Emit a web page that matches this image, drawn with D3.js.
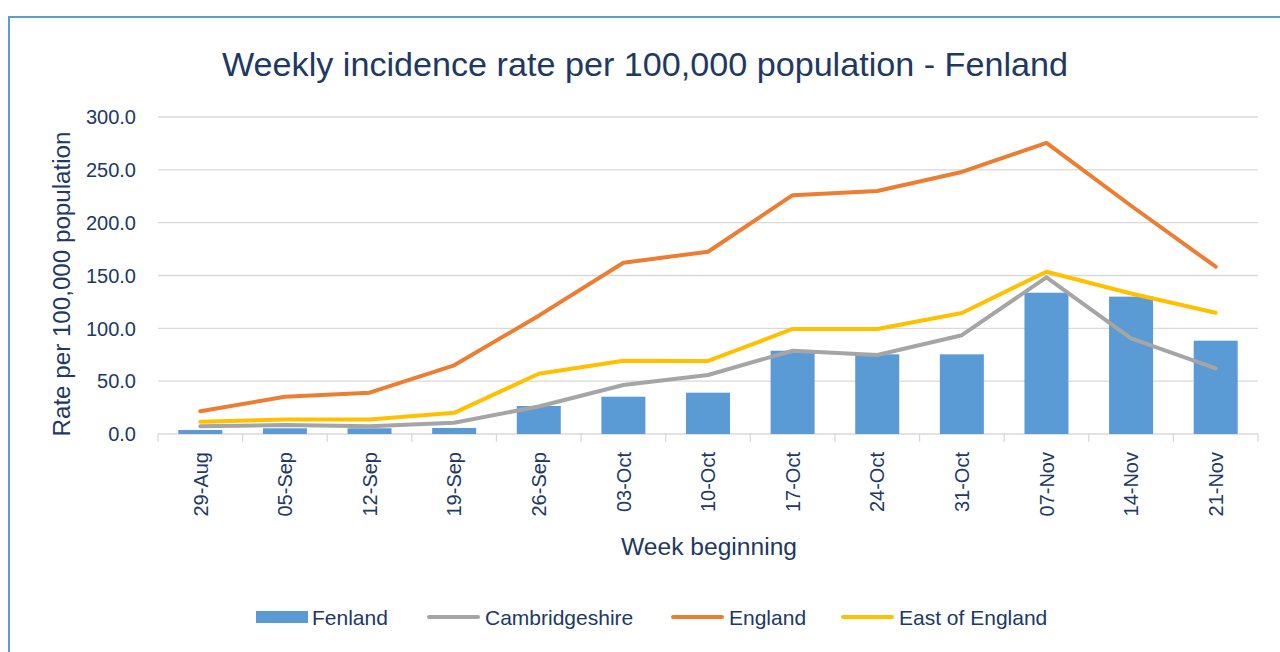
<!DOCTYPE html>
<html>
<head>
<meta charset="utf-8">
<script src="https://cdn.jsdelivr.net/npm/d3@7"></script>
<style>
  html, body { margin: 0; padding: 0; background: #fff; }
  svg { display: block; font-family: "Liberation Sans", Arial, sans-serif; }
</style>
</head>
<body>
<div id="chart"></div>
<script>
// Data
const weeks = ["29-Aug", "05-Sep", "12-Sep", "19-Sep", "26-Sep", "03-Oct", "10-Oct",
  "17-Oct", "24-Oct", "31-Oct", "07-Nov", "14-Nov", "21-Nov"];
const fenland = [3.8, 5.4, 5.4, 5.7, 26.5, 35.3, 39.1, 78.8, 75.4, 75.4, 133.7, 130.0, 88.3];
const cambridgeshire = [7.3, 8.5, 7.3, 10.7, 26.0, 46.4, 55.8, 78.8, 74.8, 93.5, 148.3, 90.5, 62.2];
const england = [21.5, 35.3, 39.1, 65.0, 112.0, 162.1, 172.5, 226.0, 230.0, 248.0, 275.5, 216.0, 158.3];
const eastOfEngland = [11.6, 13.8, 13.8, 20.0, 57.0, 69.4, 69.1, 99.4, 99.4, 114.5, 153.6, 133.0, 114.8];
const yTicks = [0, 50, 100, 150, 200, 250, 300];

const lineSeries = [
  { name: "Cambridgeshire", values: cambridgeshire, color: "#A5A5A5" },
  { name: "England", values: england, color: "#ED7D31" },
  { name: "East of England", values: eastOfEngland, color: "#FFC000" }
];

const W = 1280, H = 652;
const textColor = "#203864";
const plot = { left: 158, right: 1258, top: 117, bottom: 434 };

const svg = d3.select("#chart").append("svg")
  .attr("width", W)
  .attr("height", H);

// chart frame (only top and left edges visible)
svg.append("path")
  .attr("d", `M9,${H} V17 H${W}`)
  .attr("fill", "none")
  .attr("stroke", "#5B9BD5")
  .attr("stroke-width", 2);

const x = d3.scaleBand()
  .domain(weeks)
  .range([plot.left, plot.right])
  .paddingInner(0.48)
  .paddingOuter(0.24);

const xBand = d3.scaleBand().domain(weeks).range([plot.left, plot.right]);

const y = d3.scaleLinear()
  .domain([0, 300])
  .range([plot.bottom, plot.top]);

// gridlines
svg.append("g")
  .selectAll("line")
  .data(yTicks)
  .join("line")
  .attr("x1", plot.left)
  .attr("x2", plot.right)
  .attr("y1", d => y(d))
  .attr("y2", d => y(d))
  .attr("stroke", "#D9D9D9")
  .attr("stroke-width", 1.3);

// y tick labels
svg.append("g")
  .selectAll("text")
  .data(yTicks)
  .join("text")
  .attr("x", 136)
  .attr("y", d => y(d))
  .attr("dy", "0.36em")
  .attr("text-anchor", "end")
  .attr("font-size", 20)
  .attr("fill", textColor)
  .text(d => d.toFixed(1));

// x tick marks at band boundaries
const bounds = weeks.map(w => xBand(w)).concat([plot.right]);
svg.append("g")
  .selectAll("line")
  .data(bounds)
  .join("line")
  .attr("x1", d => d)
  .attr("x2", d => d)
  .attr("y1", plot.bottom)
  .attr("y2", plot.bottom + 8)
  .attr("stroke", "#D9D9D9")
  .attr("stroke-width", 1.3);

// x tick labels (rotated)
svg.append("g")
  .selectAll("text")
  .data(weeks)
  .join("text")
  .attr("transform", d => `translate(${xBand(d) + xBand.bandwidth() / 2},452) rotate(-90)`)
  .attr("dy", "0.36em")
  .attr("text-anchor", "end")
  .attr("font-size", 20)
  .attr("fill", textColor)
  .text(d => d);

// bars
svg.append("g")
  .selectAll("rect")
  .data(weeks.map((w, i) => ({ w, v: fenland[i] })))
  .join("rect")
  .attr("x", d => x(d.w))
  .attr("width", x.bandwidth())
  .attr("y", d => y(d.v))
  .attr("height", d => y(0) - y(d.v))
  .attr("fill", "#5B9BD5");

// lines
const line = d3.line()
  .x((d, i) => xBand(weeks[i]) + xBand.bandwidth() / 2)
  .y(d => y(d));

svg.append("g")
  .selectAll("path")
  .data(lineSeries)
  .join("path")
  .attr("d", d => line(d.values))
  .attr("fill", "none")
  .attr("stroke", d => d.color)
  .attr("stroke-width", 4)
  .attr("stroke-linejoin", "round")
  .attr("stroke-linecap", "round");

// title
svg.append("text")
  .attr("x", 645)
  .attr("y", 76)
  .attr("text-anchor", "middle")
  .attr("font-size", 33)
  .attr("textLength", 846)
  .attr("lengthAdjust", "spacingAndGlyphs")
  .attr("fill", textColor)
  .text("Weekly incidence rate per 100,000 population - Fenland");

// axis titles
svg.append("text")
  .attr("transform", "translate(62,284) rotate(-90)")
  .attr("dy", "0.36em")
  .attr("text-anchor", "middle")
  .attr("font-size", 23)
  .attr("textLength", 305)
  .attr("lengthAdjust", "spacingAndGlyphs")
  .attr("fill", textColor)
  .text("Rate per 100,000 population");

svg.append("text")
  .attr("x", 709)
  .attr("y", 555)
  .attr("text-anchor", "middle")
  .attr("font-size", 23)
  .attr("textLength", 176)
  .attr("lengthAdjust", "spacingAndGlyphs")
  .attr("fill", textColor)
  .text("Week beginning");

// legend
const legendItems = [
  { name: "Fenland", color: "#5B9BD5", type: "bar", x: 256 },
  { name: "Cambridgeshire", color: "#A5A5A5", type: "line", x: 427 },
  { name: "England", color: "#ED7D31", type: "line", x: 671 },
  { name: "East of England", color: "#FFC000", type: "line", x: 841 }
];
const legend = svg.append("g").attr("transform", "translate(0,617)");
const li = legend.selectAll("g").data(legendItems).join("g")
  .attr("transform", d => `translate(${d.x},0)`);
li.filter(d => d.type === "bar").append("rect")
  .attr("x", 0).attr("y", -6).attr("width", 52).attr("height", 12)
  .attr("fill", d => d.color);
li.filter(d => d.type === "line").append("line")
  .attr("x1", 2).attr("x2", 51).attr("y1", 0).attr("y2", 0)
  .attr("stroke", d => d.color).attr("stroke-width", 4)
  .attr("stroke-linecap", "round");
li.append("text")
  .attr("x", d => d.type === "bar" ? 56 : 58)
  .attr("dy", "0.36em")
  .attr("font-size", 21)
  .attr("fill", textColor)
  .text(d => d.name);
</script>
</body>
</html>
